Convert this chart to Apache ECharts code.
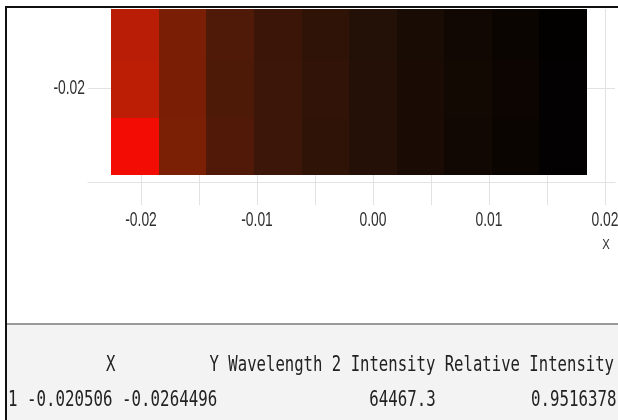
<!DOCTYPE html>
<html><head><meta charset="utf-8">
<script src="https://cdn.jsdelivr.net/npm/echarts@6/dist/echarts.min.js"></script>
<style>html,body{margin:0;padding:0;background:#fff}#c{width:618px;height:420px}</style>
</head><body><div id="c"></div>
<script>
// ---- data ----
const xCenters = [-0.020506, -0.016406, -0.012306, -0.008206, -0.004106, -0.000006, 0.004094, 0.008194, 0.012294, 0.016394];
const yCenters = [-0.0264496, -0.0201656, -0.0138816];
const relIntensity = [
  [0.9516, 0.485, 0.315, 0.230, 0.185, 0.140, 0.102, 0.070, 0.042, 0.012],
  [0.730, 0.475, 0.305, 0.232, 0.190, 0.142, 0.100, 0.072, 0.045, 0.012],
  [0.725, 0.475, 0.310, 0.225, 0.182, 0.135, 0.098, 0.068, 0.042, 0.010]
];
const xTickValues = [-0.02, -0.015, -0.01, -0.005, 0, 0.005, 0.01, 0.015, 0.02];
const xLabelValues = [-0.02, -0.01, 0, 0.01, 0.02];
const yLabelValues = [-0.02];
const xAxisName = 'X';
const tableColumns = ["X", "Y", "Wavelength 2 Intensity", "Relative Intensity"];
const tableRow1 = ["-0.020506", "-0.0264496", "64467.3", "0.9516378"];
const cellW = 0.0041, cellH = 0.006284;
const xMin = -0.024569, xMax = 0.020862, yMin = -0.030364, yMax = -0.01129;

// ---- build ----
const data = [];
yCenters.forEach((y, r) => xCenters.forEach((x, c) => data.push([x, y, relIntensity[r][c]])));
const widths = tableColumns.map((h, i) => Math.max(h.length, tableRow1[i].length));
const headerLine = ' ' + tableColumns.map((h, i) => ' ' + h.padStart(widths[i])).join('');
const rowLine = '1' + tableRow1.map((v, i) => ' ' + v.padStart(widths[i])).join('');
const fmt = v => (Math.abs(v) < 1e-9 ? 0 : v).toFixed(2);

const gridCol = '#e2e2e2';
const labelFont = "'Liberation Sans',Arial,sans-serif";
const monoFont = "'DejaVu Sans Mono','Liberation Mono',monospace";
const chart = echarts.init(document.getElementById('c'), null, {renderer: 'canvas'});
chart.setOption({
  animation: false,
  backgroundColor: '#fff',
  grid: {left: 88, right: 3, top: 9, bottom: 238, outerBoundsMode: 'none', containLabel: false},
  xAxis: {
    type: 'value', min: xMin, max: xMax,
    axisLine: {show: true, lineStyle: {color: gridCol, width: 1}},
    axisTick: {show: true, length: 23, customValues: xTickValues, lineStyle: {color: gridCol}},
    splitLine: {show: true, lineStyle: {color: gridCol, width: 1}},
    axisLabel: {show: false, customValues: xLabelValues, formatter: fmt}
  },
  yAxis: {
    type: 'value', min: yMin, max: yMax,
    axisLine: {show: false}, axisTick: {show: false, customValues: yLabelValues},
    splitLine: {show: true, lineStyle: {color: gridCol, width: 1}},
    axisLabel: {show: false, customValues: yLabelValues, formatter: fmt}
  },
  visualMap: {
    show: false, type: 'continuous', min: 0, max: 1, dimension: 2, seriesIndex: 0,
    inRange: {color: ['#000000', '#200f06', '#401709', '#601d07', '#802005', '#a02005', '#c01c05', '#e01204', '#ff0803']}
  },
  series: [{
    type: 'custom', clip: true, data: data,
    renderItem: function (params, api) {
      const x = api.value(0), y = api.value(1);
      const p0 = api.coord([x - cellW / 2, y + cellH / 2]);
      const p1 = api.coord([x + cellW / 2, y - cellH / 2]);
      const x0 = Math.round(p0[0]), y0 = Math.round(p0[1]), x1 = Math.round(p1[0]), y1 = Math.round(p1[1]);
      return {type: 'rect', shape: {x: x0, y: y0, width: x1 - x0, height: y1 - y0},
        style: {fill: api.visual('color')}};
    }
  }]
});

// Axis labels as condensed text, placed via the chart's own scales
const labelStyle = {fill: '#2f2f2f', font: '21px ' + labelFont, textVerticalAlign: 'middle'};
const g = [];
xLabelValues.forEach(v => {
  const p = chart.convertToPixel({gridIndex: 0}, [v, yMin]);
  g.push({type: 'text', silent: true, z: 12, x: p[0], y: p[1] + 38, scaleX: 0.66,
    style: Object.assign({text: fmt(v), textAlign: 'center'}, labelStyle)});
});
yLabelValues.forEach(v => {
  const p = chart.convertToPixel({gridIndex: 0}, [xMin, v]);
  g.push({type: 'text', silent: true, z: 12, x: p[0] - 3, y: p[1], scaleX: 0.66,
    style: Object.assign({text: fmt(v), textAlign: 'right'}, labelStyle)});
});
const pn = chart.convertToPixel({gridIndex: 0}, [0.02, yMin]);
g.push({type: 'text', silent: true, z: 12, x: pn[0] + 1, y: pn[1] + 63, scaleX: 0.75,
  style: Object.assign({}, labelStyle, {text: xAxisName, textAlign: 'center', font: '15px ' + labelFont})});

g.push(
  {type: 'rect', silent: true, z: 10, shape: {x: 6, y: 324, width: 612, height: 96}, style: {fill: '#f3f3f3'}},
  {type: 'rect', silent: true, z: 11, shape: {x: 6, y: 323, width: 612, height: 2}, style: {fill: '#9a9a9a'}},
  {type: 'rect', silent: true, z: 12, shape: {x: 5, y: 6, width: 613, height: 2}, style: {fill: '#111'}},
  {type: 'rect', silent: true, z: 12, shape: {x: 5, y: 6, width: 2, height: 414}, style: {fill: '#111'}},
  {type: 'text', silent: true, z: 12, x: 12, y: 366, scaleX: 0.744, style: {text: headerLine, x: 0, y: 0, fill: '#222', font: "21px " + monoFont, textAlign: 'left', textVerticalAlign: 'middle'}},
  {type: 'text', silent: true, z: 12, x: 8, y: 401, scaleX: 0.752, style: {text: rowLine, x: 0, y: 0, fill: '#222', font: "21px " + monoFont, textAlign: 'left', textVerticalAlign: 'middle'}}
);
chart.setOption({graphic: g});
</script></body></html>
